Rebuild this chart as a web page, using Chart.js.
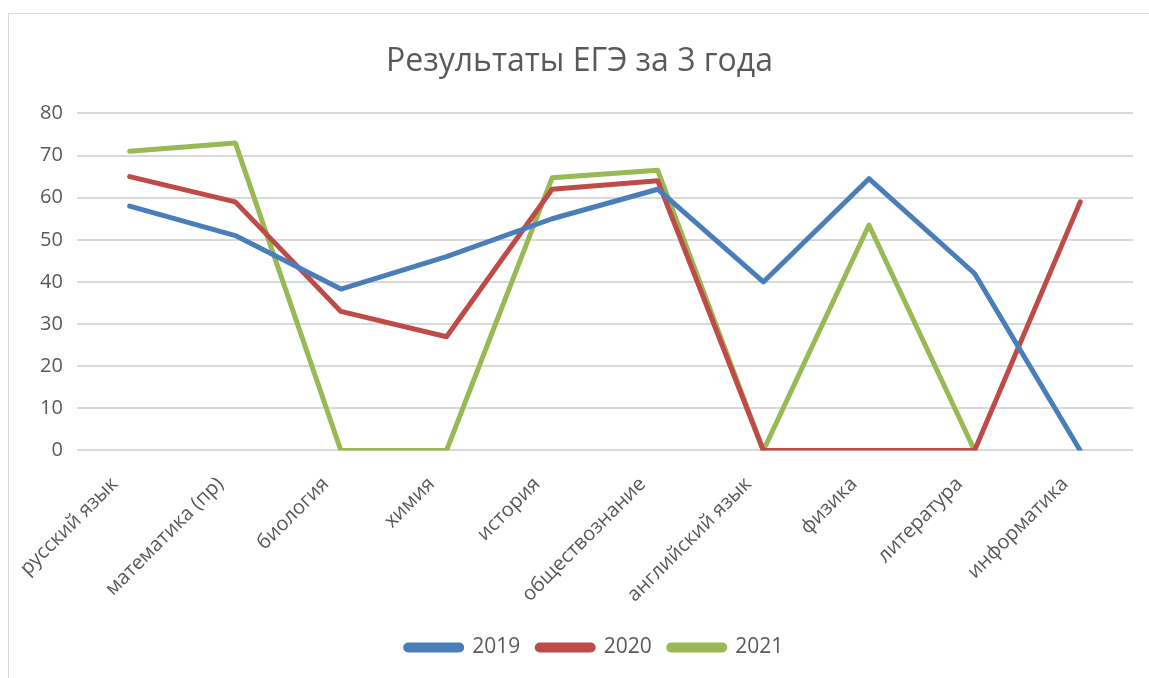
<!DOCTYPE html>
<html>
<head>
<meta charset="utf-8">
<script src="https://cdn.jsdelivr.net/npm/chart.js@4"></script>
<style>
  html, body { margin: 0; padding: 0; background: #fff; }
  #frame { position: absolute; left: 8px; top: 13px; width: 1160px; height: 700px; border: 1px solid #d9d9d9; box-sizing: border-box; }
  #wrap { position: absolute; left: 0; top: 0; width: 1149px; height: 678px; }
</style>
</head>
<body>
<div id="frame"></div>
<div id="wrap"><canvas id="chart"></canvas></div>
<script>
// Результаты ЕГЭ за 3 года
const subjects = ['русский язык', 'математика (пр)', 'биология', 'химия', 'история',
  'обществознание', 'английский язык', 'физика', 'литература', 'информатика'];
const years = ['2019', '2020', '2021'];
const res2019 = [58, 51, 38.3, 46, 55, 62, 40, 64.5, 42, 0];
const res2020 = [65, 59, 33, 27, 62, 64, 0, 0, 0, 59];
const res2021 = [71, 73, 0, 0, 64.7, 66.5, 0, 53.5, 0, null];
const yTicks = [0, 10, 20, 30, 40, 50, 60, 70, 80];

const colors = ['#4a7ebb', '#be4b48', '#98b954'];
const font = '"Open Sans", "Noto Sans", sans-serif';
const txt = '#595959';

const series = [res2019, res2020, res2021];

// legend sits a little right of centre in the original
const legendShift = {
  id: 'legendShift',
  afterLayout(chart) {
    chart.legend.left += 15;
    chart.legend.right += 15;
  }
};

new Chart(document.getElementById('chart'), {
  type: 'line',
  data: {
    labels: subjects,
    datasets: series.map((d, i) => ({
      label: years[i],
      data: d,
      borderColor: colors[i],
      backgroundColor: colors[i],
      borderWidth: 5,
      pointRadius: 0,
      tension: 0,
      fill: false,
      borderCapStyle: 'round',
      borderJoinStyle: 'round'
    }))
  },
  plugins: [legendShift],
  options: {
    responsive: true,
    maintainAspectRatio: false,
    animation: false,
    layout: { padding: { left: 26, right: 16, top: 43, bottom: 10 } },
    plugins: {
      title: {
        display: true,
        text: 'Результаты ЕГЭ за 3 года',
        color: txt,
        font: { family: font, size: 32, weight: 'normal' },
        padding: { top: 0, bottom: 32 }
      },
      legend: {
        position: 'bottom',
        labels: {
          color: txt,
          font: { family: font, size: 21 },
          boxWidth: 56,
          boxHeight: 5,
          useBorderRadius: true,
          borderRadius: 2.5,
          padding: 17
        }
      },
      tooltip: { enabled: false }
    },
    scales: {
      x: {
        offset: true,
        grid: { display: false },
        border: { display: false },
        afterFit: s => { s.height -= 1; },
        ticks: {
          color: txt,
          font: { family: font, size: 20 },
          maxRotation: 45,
          minRotation: 45,
          padding: 14,
          labelOffset: -15
        }
      },
      y: {
        min: 0,
        max: 80,
        afterBuildTicks: axis => { axis.ticks = yTicks.map(v => ({ value: v })); },
        grid: { color: '#d9d9d9', lineWidth: 2, drawTicks: false },
        border: { display: false },
        ticks: {
          color: txt,
          font: { family: font, size: 20 },
          padding: 14
        }
      }
    }
  }
});
</script>
</body>
</html>
